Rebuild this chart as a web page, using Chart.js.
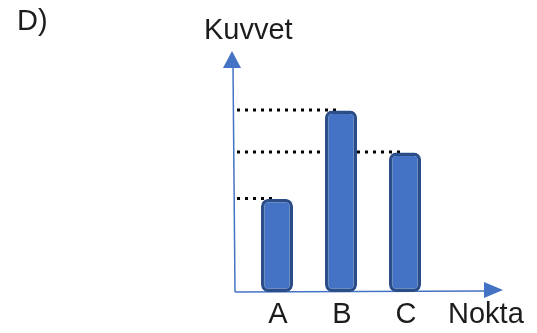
<!DOCTYPE html>
<html>
<head>
<meta charset="utf-8">
<script src="https://cdn.jsdelivr.net/npm/chart.js@4.4.1/dist/chart.umd.min.js"></script>
<style>
  html, body { margin: 0; padding: 0; background: #ffffff; }
  #wrap { width: 537px; height: 333px; }
</style>
</head>
<body>
<div id="wrap"><canvas id="c" width="537" height="333"></canvas></div>
<script>
// ---- data ----
const categories = ['A', 'B', 'C'];
const forceValues = [2, 3.9, 3];
const yTitle = 'Kuvvet';
const xTitle = 'Nokta';
const panelLabel = 'D)';

const FONT = '"Liberation Sans", Arial, sans-serif';
const TEXT_COLOR = '#1c1c1c';
const AXIS_COLOR = '#4472C4';

const decor = {
  id: 'decor',
  beforeDatasetsDraw(chart) {
    const ctx = chart.ctx;
    const xs = chart.scales.x, ys = chart.scales.y;
    const axisX = xs.left - 10;
    const axisY = ys.getPixelForValue(0);
    // dotted reference lines from the y axis to each bar top
    ctx.save();
    ctx.strokeStyle = '#000';
    ctx.lineWidth = 3;
    ctx.setLineDash([3, 5]);
    const meta = chart.getDatasetMeta(0);
    forceValues.forEach((v, i) => {
      const y = ys.getPixelForValue(v) - 0.5;
      const bx = meta.data[i].x;
      ctx.beginPath();
      ctx.moveTo(axisX + 2, y);
      ctx.lineTo(bx, y);
      ctx.stroke();
    });
    ctx.restore();

    // axes with arrows
    ctx.save();
    ctx.strokeStyle = AXIS_COLOR;
    ctx.fillStyle = AXIS_COLOR;
    ctx.lineWidth = 1.5;
    const topY = chart.chartArea.top;
    const rightX = chart.chartArea.right + 66;
    ctx.beginPath();
    ctx.moveTo(axisX, axisY);
    ctx.lineTo(axisX - 2, topY + 16);
    ctx.stroke();
    ctx.beginPath();
    ctx.moveTo(axisX, axisY);
    ctx.lineTo(rightX - 18, axisY - 1);
    ctx.stroke();
    // y arrow
    ctx.beginPath();
    ctx.moveTo(axisX - 3, topY + 1);
    ctx.lineTo(axisX - 12, topY + 18);
    ctx.lineTo(axisX + 6, topY + 18);
    ctx.closePath();
    ctx.fill();
    // x arrow
    ctx.beginPath();
    ctx.moveTo(rightX, axisY - 2);
    ctx.lineTo(rightX - 19, axisY - 10);
    ctx.lineTo(rightX - 19, axisY + 6);
    ctx.closePath();
    ctx.fill();
    ctx.restore();
  },
  afterDraw(chart) {
    const ctx = chart.ctx;
    const xs = chart.scales.x;
    ctx.save();
    ctx.fillStyle = TEXT_COLOR;
    ctx.font = '29px ' + FONT;
    ctx.textBaseline = 'alphabetic';
    ctx.textAlign = 'left';
    ctx.fillText(panelLabel, 17, 30);
    ctx.fillText(yTitle, 204, 39);
    ctx.fillText(xTitle, 448, 323);
    ctx.textAlign = 'center';
    categories.forEach((c, i) => {
      ctx.fillText(c, xs.getPixelForValue(i) + 1, 323);
    });
    ctx.restore();
  }
};

new Chart(document.getElementById('c'), {
  type: 'bar',
  data: {
    labels: categories,
    datasets: [{
      data: forceValues,
      backgroundColor: '#4472C4',
      borderColor: '#2B4D88',
      borderWidth: 3.5,
      borderRadius: 7,
      borderSkipped: false,
      barPercentage: 0.5,
      categoryPercentage: 1
    }]
  },
  options: {
    responsive: false,
    animation: false,
    events: [],
    layout: { padding: { left: 245, right: 100, top: 50, bottom: 41 } },
    plugins: { legend: { display: false }, tooltip: { enabled: false } },
    scales: {
      x: { display: false },
      y: { display: false, min: 0, max: 5.2 }
    }
  },
  plugins: [decor]
});
</script>
</body>
</html>
